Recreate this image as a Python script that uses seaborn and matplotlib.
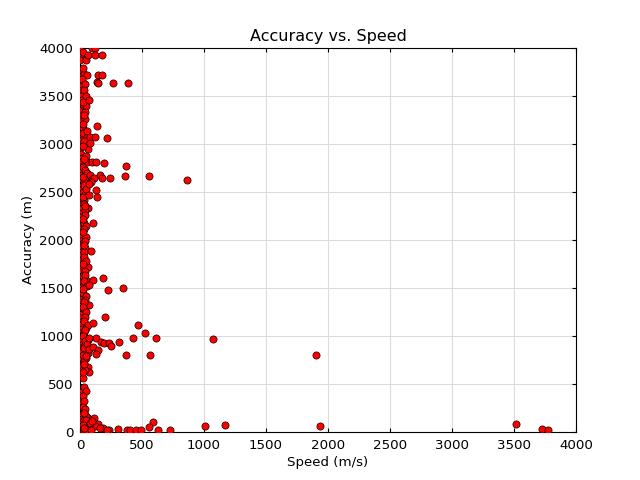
import pandas as pd
import seaborn as sns
import matplotlib
matplotlib.use('Agg')
import matplotlib.pyplot as plt

# puntos pegados al eje (velocidad casi cero)
axis_speed = [4, 10, 3, 12, 6, 14, 5, 14, 8, 14, 3, 9, 4, 12, 6, 3, 14, 8, 5, 12,
              14, 14, 6, 10, 14, 4, 9, 16, 5, 11, 3, 13, 7, 4, 16, 9, 14, 6, 11, 4,
              15, 8, 22, 5, 12, 20, 15, 6, 10, 4, 13, 7, 3, 11, 14, 5, 9, 20, 4, 12,
              7, 14, 3, 10, 6, 13, 4, 22, 9, 14, 5, 11, 3, 15, 8, 22, 5, 12, 6, 8,
              4, 10, 5, 12, 35, 6, 14, 4, 10, 5, 15, 3, 20, 25, 30]
axis_acc = [3995, 3935, 3880, 3760, 3705, 3655, 3600, 3563, 3505, 3459, 3410, 3350,
            3290, 3235, 3180, 3125, 3077, 3025, 2965, 2900, 2852, 2810, 2765, 2720,
            2678, 2640, 2600, 2560, 2520, 2480, 2440, 2400, 2360, 2320, 2278, 2240,
            2191, 2150, 2110, 2070, 2030, 1990, 1966, 1930, 1880, 1840, 1790, 1750,
            1710, 1670, 1630, 1590, 1550, 1510, 1470, 1430, 1390, 1390, 1350, 1310,
            1270, 1230, 1190, 1150, 1110, 1070, 1030, 976, 990, 950, 910, 870, 830,
            790, 750, 716, 680, 640, 600, 420, 380, 340, 300, 260, 211, 180, 140,
            100, 60, 25, 10, 3, 15, 40, 5]

# segunda columna (20-90 m/s)
mid_speed = [30, 54, 20, 32, 48, 40, 27, 25, 54, 20, 67, 54, 40, 20, 60, 30, 50, 25,
             40, 35, 62, 40, 35, 48, 43, 30, 62, 40, 25, 48, 35, 28, 45, 70, 30, 48,
             35, 25, 62, 45, 30, 62, 40, 62, 45, 30, 62, 70, 40, 25, 30, 45, 25, 35,
             28, 62, 45, 89, 50, 40, 35, 55, 60, 42, 30]
mid_acc = [3730, 3720, 3680, 3400, 3400, 3261, 3164, 3110, 3077, 3040, 2945, 2810,
           2678, 2640, 2620, 2600, 2550, 2500, 2480, 2417, 2331, 2313, 2175, 2035,
           1914, 1870, 1722, 1680, 1620, 1584, 1540, 1450, 1420, 1323, 1280, 1080,
           1040, 1010, 960, 930, 900, 840, 860, 820, 770, 740, 680, 628, 650, 560,
           470, 430, 380, 320, 260, 142, 170, 55, 90, 60, 20, 30, 8, 110, 130]

# relleno de la columna densa
fill_speed = [28, 45, 22, 38, 30, 50, 26, 42, 34, 24, 55, 36, 28, 46, 32, 22, 40, 58,
              26, 35, 48, 24, 30, 44, 38, 27, 52, 33, 25, 41, 36, 29, 47, 23, 39, 31,
              56, 27, 43, 34, 25, 50, 37, 29, 65, 44, 26, 38, 32, 58, 24, 46, 35, 28,
              72, 40, 30, 52, 26, 36]
fill_acc = [3955, 3880, 3790, 3620, 3560, 3500, 3440, 3330, 3300, 3210, 3140, 3030,
            2980, 2880, 2840, 2760, 2730, 2700, 2660, 2570, 2530, 2450, 2380, 2350,
            2260, 2220, 2150, 2110, 2080, 1990, 1950, 1820, 1780, 1750, 1640, 1570,
            1520, 1490, 1380, 1350, 1300, 1250, 1200, 1160, 1110, 1060, 1000, 950,
            880, 920, 800, 790, 710, 620, 860, 240, 200, 120, 70, 40]

# puntos dispersos
far_speed = [94, 121, 67, 121, 175, 148, 180, 135, 148, 264, 390, 75, 135, 81, 121,
             215, 81, 94, 129, 196, 372, 81, 162, 180, 242, 362, 556, 866, 100, 110,
             90, 75, 129, 135, 75, 103, 89, 188, 103, 75, 224, 350, 205, 108, 466,
             528, 129, 75, 426, 614, 1069, 170, 196, 237, 250, 318, 103, 143, 372,
             566, 1907, 129, 116, 143, 183, 237, 305, 375, 400, 452, 492, 587, 555,
             633, 727, 1005, 1172, 1934, 3517, 3722, 3771, 121, 81, 162, 215, 100, 90]
far_acc = [3995, 3995, 3928, 3928, 3928, 3720, 3720, 3650, 3640, 3640, 3640, 3459,
           3188, 3077, 3077, 3065, 3008, 2810, 2810, 2800, 2775, 2678, 2678, 2643,
           2643, 2670, 2670, 2630, 2640, 2650, 2600, 2584, 2522, 2452, 2470, 2181,
           1889, 1601, 1584, 1532, 1480, 1497, 1202, 1133, 1115, 1028, 976, 976, 976,
           976, 972, 941, 924, 924, 900, 941, 889, 855, 802, 802, 799, 813, 142, 83,
           38, 21, 28, 21, 21, 21, 21, 107, 55, 21, 21, 59, 73, 59, 83, 28, 21, 62,
           90, 38, 21, 110, 20]

df = pd.DataFrame({
    'Speed': axis_speed + mid_speed + fill_speed + far_speed,
    'Accuracy': axis_acc + mid_acc + fill_acc + far_acc,
})

sns.set_style('whitegrid', {'grid.color': '#dcdcdc', 'axes.edgecolor': 'black',
                            'xtick.direction': 'in', 'ytick.direction': 'in',
                            'text.color': 'black', 'axes.labelcolor': 'black',
                            'xtick.color': 'black', 'ytick.color': 'black'})
plt.rcParams['font.family'] = ['DejaVu Sans']

fig, ax = plt.subplots(figsize=(8, 6), dpi=80)
fig.subplots_adjust(left=0.125, right=0.9, bottom=0.1, top=0.9)

sns.scatterplot(data=df, x='Speed', y='Accuracy', color='red', edgecolor='black',
                linewidth=0.6, s=42, ax=ax, zorder=3)

ax.set_xlim(0, 4000)
ax.set_ylim(0, 4000)
ax.set_xticks(range(0, 4001, 500))
ax.set_yticks(range(0, 4001, 500))
ax.tick_params(direction='in', length=4, width=1, top=True, right=True,
               bottom=True, left=True, labelsize=12, colors='black', pad=6)
ax.grid(True, color='#dcdcdc', linewidth=1, linestyle='-')
ax.set_axisbelow(True)
for s in ax.spines.values():
    s.set_color('black')
    s.set_linewidth(1)

ax.set_title('Accuracy vs. Speed', fontsize=14.4, color='black')
ax.set_xlabel('Speed (m/s)', fontsize=12, color='black')
ax.set_ylabel('Accuracy (m)', fontsize=12, color='black')

plt.savefig('out.png', dpi=80, facecolor='white')
